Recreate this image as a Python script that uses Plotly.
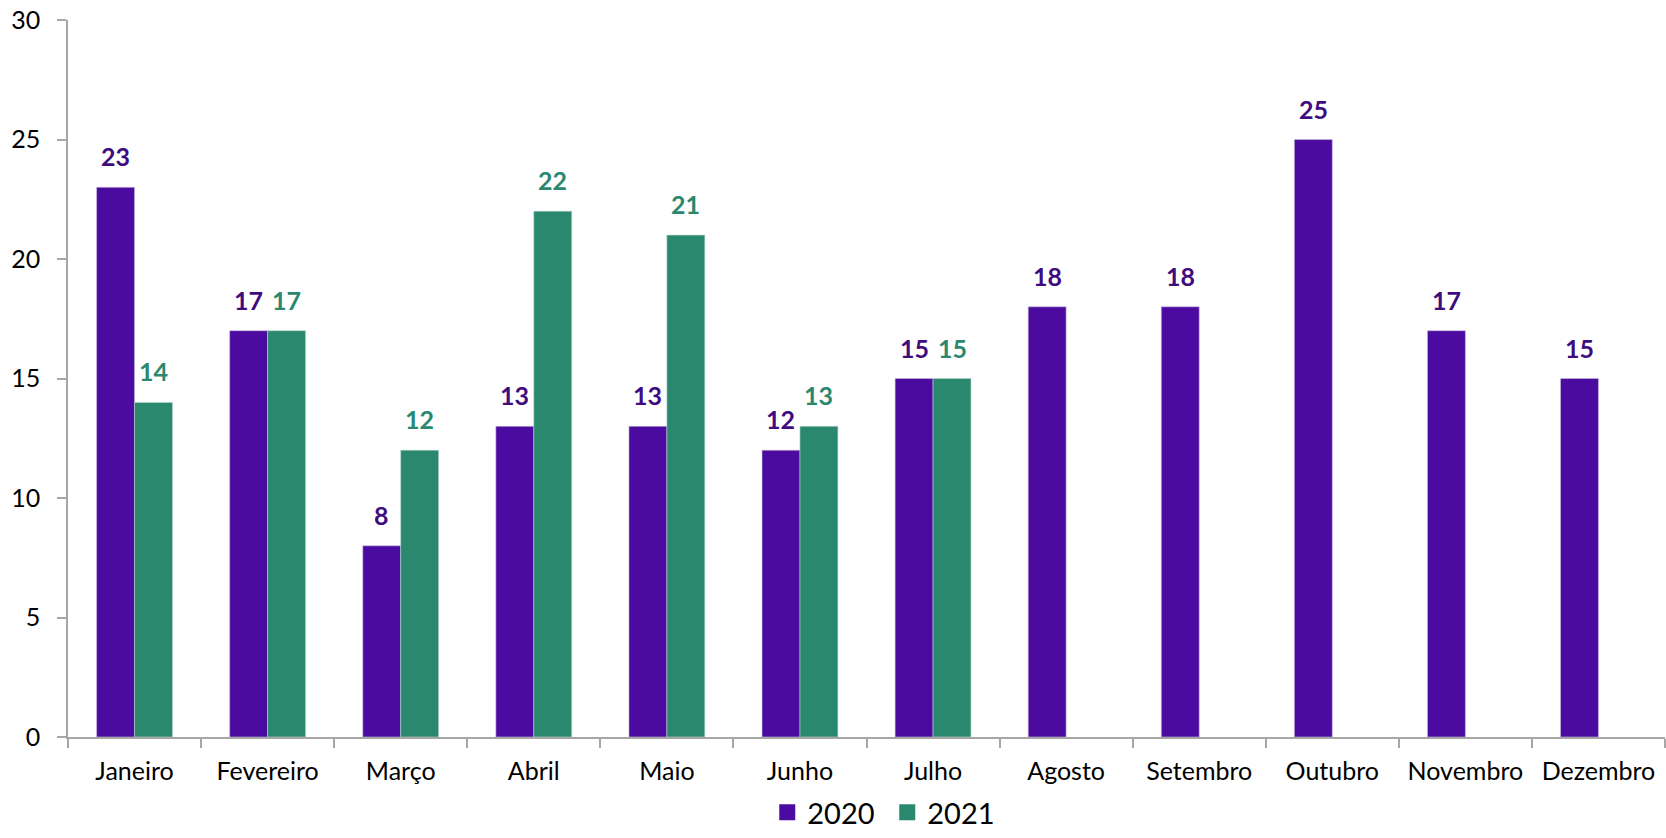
import plotly.graph_objects as go

months = ["Janeiro", "Fevereiro", "Março", "Abril", "Maio", "Junho", "Julho",
          "Agosto", "Setembro", "Outubro", "Novembro", "Dezembro"]
v2020 = [23, 17, 8, 13, 13, 12, 15, 18, 18, 25, 17, 15]
v2021 = [14, 17, 12, 22, 21, 13, 15, None, None, None, None, None]
series_names = ["2020", "2021"]

C2020 = "#4B0AA0"
C2021 = "#2A886F"
L2020 = "#3F0C80"
L2021 = "#2A886F"
FONT = "Lato"

fig = go.Figure()
fig.add_trace(go.Bar(name=series_names[0], x=months, y=v2020, marker_color=C2020,
                     marker_line=dict(color="#c8bedc", width=0.6), showlegend=False))
fig.add_trace(go.Bar(name=series_names[1], x=months, y=v2021, marker_color=C2021,
                     marker_line=dict(color="#b8d4cc", width=0.6), showlegend=False))

# legend entries with larger square swatches
for name, color in zip(series_names, [C2020, C2021]):
    fig.add_trace(go.Scatter(name=name, x=[None], y=[None], mode="markers",
                             marker=dict(symbol="square", size=18, color=color),
                             showlegend=True))

for series, color, shift in [(v2020, L2020, -19), (v2021, L2021, 19)]:
    for m, v in zip(months, series):
        if v is None:
            continue
        fig.add_annotation(x=m, y=v, text=f"<b>{v}</b>", showarrow=False,
                           xshift=shift, yshift=14, yanchor="bottom",
                           font=dict(family=FONT, size=25, color=color))

fig.update_layout(
    width=1666, height=838,
    margin=dict(l=68, r=1, t=20, b=101),
    plot_bgcolor="white", paper_bgcolor="white",
    barmode="group", bargap=0.43, bargroupgap=0,
    font=dict(family=FONT, size=24, color="black"),
    showlegend=True,
    legend=dict(orientation="h", x=0.513, xanchor="center",
                yref="container", y=0.0, yanchor="bottom",
                font=dict(family=FONT, size=29, color="black"),
                itemwidth=30, entrywidth=75, traceorder="normal"),
)
fig.update_xaxes(showline=True, linecolor="#a6a6a6", linewidth=1.5,
                 ticks="outside", ticklen=9, tickcolor="#a6a6a6", tickwidth=1.5,
                 tickson="boundaries", showgrid=False, automargin=False,
                 ticklabelstandoff=11,
                 tickfont=dict(family=FONT, size=25, color="black"))
fig.update_yaxes(range=[0, 30], dtick=5, showline=True, linecolor="#a6a6a6", linewidth=1.5,
                 ticks="outside", ticklen=9, tickcolor="#a6a6a6", tickwidth=1.5,
                 showgrid=False, zeroline=False, ticklabelstandoff=12, automargin=False,
                 tickfont=dict(family=FONT, size=25, color="black"))

fig.write_html("out.html", config={"displayModeBar": False},
               post_script="document.body.style.margin='0';document.body.style.overflow='hidden';")
